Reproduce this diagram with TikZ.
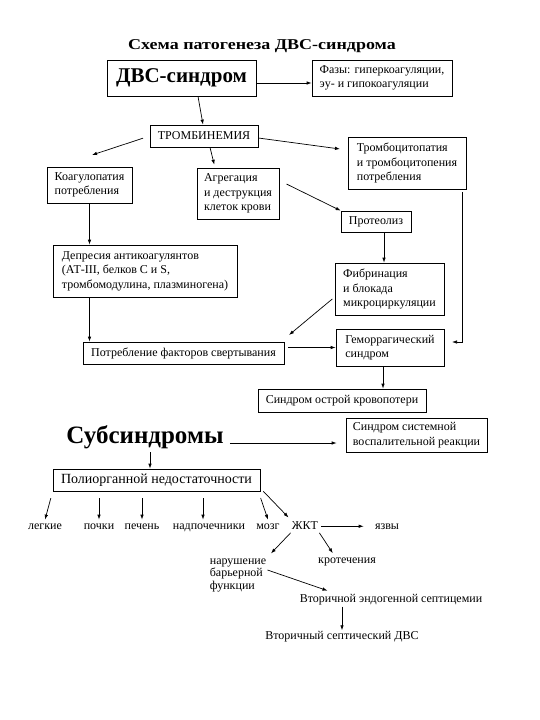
\documentclass[tikz,border=0pt]{standalone}
\usepackage{fontspec}
\setmainfont{Liberation Serif}
\newfontfamily\titlefont{Liberation Serif}[FakeStretch=1.2]
\usepackage{tikz}
\usetikzlibrary{arrows.meta, positioning}

\begin{document}
\begin{tikzpicture}[x=1pt, y=-1pt, line width=0.7pt,
  box/.style={draw, align=left, inner sep=2pt, font=\fontsize{12}{14.5}\selectfont},
  lbl/.style={inner sep=1pt, align=left, font=\fontsize{12}{12.5}\selectfont},
  organ/.style={inner sep=1pt, anchor=base, text height=8pt, text depth=2.5pt, font=\fontsize{12}{12.5}\selectfont},
  arr/.style={-{Latex[length=5pt,width=3.5pt]}}]
  \useasboundingbox (0,0) rectangle (540,720);
  % upper part
  \node[font=\titlefont\fontsize{15}{17}\selectfont\bfseries] (title) at (262,46) {Схема патогенеза ДВС-синдрома};
  \node[box, minimum width=149, minimum height=36, font=\fontsize{21}{24}\selectfont\bfseries] (dvs) at (181.5,78) {ДВС-синдром};
  \node[box, minimum width=140, minimum height=36] (faz) at (382,78) {Фазы: гиперкоагуляции,\\эу- и гипокоагуляции};
  \node[box, minimum width=108, minimum height=22] (tromb) at (204,136) {ТРОМБИНЕМИЯ};
  \node[box, minimum width=85, minimum height=36] (koag) at (89.5,185) {Коагулопатия\\потребления};
  \node[box, minimum width=82, minimum height=51] (agreg) at (238,193.5) {Агрегация\\и деструкция\\клеток крови};
  \node[box, minimum width=118, minimum height=52] (tcp) at (407,163) {Тромбоцитопатия\\и тромбоцитопения\\потребления};
  \node[box, minimum width=184, minimum height=52] (depr) at (145,271) {Депресия антикоагулянтов\\(АТ-III, белков С и S,\\тромбомодулина, плазминогена)};
  \node[box, minimum width=70, minimum height=21] (prot) at (376,221.5) {Протеолиз};
  \node[box, minimum width=109, minimum height=52] (fibr) at (389.5,289) {Фибринация\\и блокада\\микроциркуляции};
  \node[box, minimum width=201, minimum height=22] (potr) at (183.5,353) {Потребление факторов свертывания};
  \node[box, minimum width=108, minimum height=37] (gem) at (390,347.5) {Геморрагический\\синдром};
  \node[box, minimum width=168, minimum height=23] (ostr) at (342,400.5) {Синдром острой кровопотери};
  \coordinate (c1) at (92,155);
  \coordinate (c2) at (340,149);
  \coordinate (c3) at (289,335);
  \coordinate (c4) at (452,342);

  \draw[arr] ([yshift=-5]dvs.east) -- ([yshift=-5]faz.west);
  \draw[arr] ([xshift=16.5]dvs.south) -- ([xshift=-1]tromb.north);
  \draw[arr, shorten <=7pt] (tromb.west) -- (c1);
  \draw[arr, shorten >=3pt] ([xshift=6]tromb.south) -- ([xshift=-23]agreg.north);
  \draw[arr] ([yshift=-2]tromb.east) -- (c2);
  \draw[arr] (koag.south) -- (koag.south |- depr.north);
  \draw[arr] (depr.south -| koag.south) -- (potr.north -| koag.south);
  \draw[arr, shorten <=8pt] ([yshift=13]agreg.east) -- (prot.north west);
  \draw[arr] ([xshift=8]prot.south) -- ([xshift=8]prot.south |- fibr.north);
  \draw[arr, shorten <=3pt] ([yshift=-8]fibr.west) -- (c3);
  \draw[arr, shorten <=4pt] (gem.west -| potr.east) -- (gem.west);
  \draw[arr] ([xshift=-4,yshift=-3]tcp.south east) |- (c4);
  \draw[arr] ([xshift=-7]gem.south) -- ([xshift=-7]gem.south |- ostr.north);

  % subsyndromes
  \node[font=\fontsize{25}{28}\selectfont\bfseries, inner sep=0pt] (subs) at (145,437) {Субсиндромы};
  \node[box, minimum width=141, minimum height=34] (svr) at (416.5,435) {Синдром системной\\воспалительной реакции};
  \node[box, minimum width=207, minimum height=22, font=\fontsize{14}{16}\selectfont] (pol) at (156.5,480) {Полиорганной недостаточности};
  \node[organ] (legk) at (45,529) {легкие};
  \node[organ] (poch) at (99,529) {почки};
  \node[organ] (pech) at (142,529) {печень};
  \node[organ] (nadp) at (209,529) {надпочечники};
  \node[organ] (mozg) at (268,529) {мозг};
  \node[organ] (zhkt) at (305,529) {ЖКТ};
  \node[organ] (yazv) at (387,529) {язвы};
  \node[lbl] (narush) at (238,575) {нарушение\\барьерной\\функции};
  \node[lbl] (krot) at (347,562) {кротечения};
  \node[lbl] (vtor1) at (391,600) {Вторичной эндогенной септицемии};
  \node[lbl] (vtor2) at (342,637) {Вторичный септический ДВС};

  \draw[arr, shorten <=6pt, shorten >=9pt] ([yshift=-6]subs.east) -- ([yshift=-8]svr.west);
  \draw[arr] ([xshift=5,yshift=-3]subs.south) -- ([xshift=5]subs.south |- pol.north);
  \draw[arr, shorten <=7pt] (pol.south west) -- (legk.north);
  \draw[arr, shorten <=7pt] (pol.south -| poch.north) -- (poch.north);
  \draw[arr, shorten <=7pt] (pol.south -| pech.north) -- (pech.north);
  \draw[arr, shorten <=7pt] ([xshift=-6]pol.south -| nadp.north) -- ([xshift=-6]nadp.north);
  \draw[arr, shorten <=7pt] ([xshift=-2]pol.south east) -- (mozg.north);
  \draw[arr, shorten >=3pt] ([xshift=3]pol.south east) -- (zhkt.north west);
  \draw[arr, shorten <=2pt, shorten >=10pt] (zhkt.east) -- (yazv.west);
  \draw[arr, shorten >=5pt] (zhkt.south west) -- (narush.north east);
  \draw[arr, shorten >=4pt] (zhkt.south east) -- ([xshift=-12]krot.north);
  \draw[arr, shorten >=8pt] ([yshift=5]narush.east) -- ([xshift=-56]vtor1.north);
  \draw[arr] (vtor1.south -| vtor2.north) -- (vtor2.north);
\end{tikzpicture}
\end{document}
